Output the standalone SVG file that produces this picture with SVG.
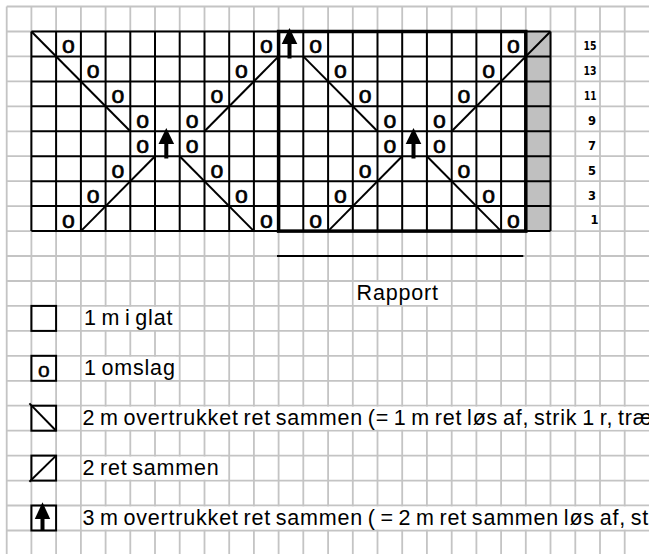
<svg xmlns="http://www.w3.org/2000/svg" width="649" height="554" viewBox="0 0 649 554">
<style>
.bg{fill:#fff}
.grid{stroke:#c4c4c4;stroke-width:1.8;fill:none}
.blk{stroke:#000;stroke-width:2;fill:none}
.thick{stroke:#000;stroke-width:3.5;fill:none}
.o{font-family:"Liberation Sans",Arial,sans-serif;font-size:23px;text-anchor:middle;fill:#000;stroke:#000;stroke-width:0.7}
.num{font-family:"DejaVu Sans",sans-serif;font-weight:bold;font-size:13px;fill:#000}
.lbl{font-family:"Liberation Sans",Arial,sans-serif;font-size:21.5px;letter-spacing:0.8px;word-spacing:-2px;fill:#000}
.wb{fill:#fff}
</style>
<defs>
<g id="arrow">
<polygon points="0,0 -7.8,16 7.8,16" fill="#000"/>
<rect x="-2" y="15" width="4" height="15.5" fill="#000"/>
</g>
</defs>
<rect class="bg" x="0" y="0" width="649" height="554"/>
<g id="paper-grid">
<path class="grid" d="M6.7 6.5V554M31.4 6.5V554M56.1 6.5V554M80.9 6.5V554M105.6 6.5V554M130.3 6.5V554M155 6.5V554M179.7 6.5V554M204.5 6.5V554M229.2 6.5V554M253.9 6.5V554M278.6 6.5V554M303.3 6.5V554M328.1 6.5V554M352.8 6.5V554M377.5 6.5V554M402.2 6.5V554M426.9 6.5V554M451.7 6.5V554M476.4 6.5V554M501.1 6.5V554M525.8 6.5V554M550.5 6.5V554M575.3 6.5V554M600 6.5V554M624.7 6.5V554M6.7 6.5H649M6.7 31.5H649M6.7 56.4H649M6.7 81.4H649M6.7 106.3H649M6.7 131.3H649M6.7 156.2H649M6.7 181.2H649M6.7 206.1H649M6.7 231.1H649M6.7 256H649M6.7 281H649M6.7 305.9H649M6.7 330.9H649M6.7 355.8H649M6.7 380.8H649M6.7 405.7H649M6.7 430.7H649M6.7 455.6H649M6.7 480.6H649M6.7 505.5H649M6.7 530.5H649"/>
</g>
<g id="chart">
<rect x="31.4" y="31.5" width="494.4" height="199.6" fill="#fff"/>
<rect x="525.8" y="31.5" width="24.7" height="199.6" fill="#c0c0c0"/>
<path class="blk" d="M31.4 31.5V231.1M56.1 31.5V231.1M80.9 31.5V231.1M105.6 31.5V231.1M130.3 31.5V231.1M155 31.5V231.1M179.7 31.5V231.1M204.5 31.5V231.1M229.2 31.5V231.1M253.9 31.5V231.1M278.6 31.5V231.1M303.3 31.5V231.1M328.1 31.5V231.1M352.8 31.5V231.1M377.5 31.5V231.1M402.2 31.5V231.1M426.9 31.5V231.1M451.7 31.5V231.1M476.4 31.5V231.1M501.1 31.5V231.1M525.8 31.5V231.1M550.5 31.5V231.1M31.4 31.5H550.5M31.4 56.4H550.5M31.4 81.4H550.5M31.4 106.3H550.5M31.4 131.3H550.5M31.4 156.2H550.5M31.4 181.2H550.5M31.4 206.1H550.5M31.4 231.1H550.5"/>
<rect id="repeat-box" class="thick" x="278.6" y="31.5" width="247.2" height="199.6"/>
<g id="decreases" class="blk">
<line x1="31.4" y1="31.5" x2="130.3" y2="131.3"/>
<line x1="204.5" y1="131.3" x2="278.6" y2="56.4"/>
<line x1="303.3" y1="56.4" x2="377.5" y2="131.3"/>
<line x1="550.5" y1="31.5" x2="451.7" y2="131.3"/>
<line x1="80.9" y1="231.1" x2="155" y2="156.2"/>
<line x1="179.7" y1="156.2" x2="253.9" y2="231.1"/>
<line x1="328.1" y1="231.1" x2="402.2" y2="156.2"/>
<line x1="426.9" y1="156.2" x2="501.1" y2="231.1"/>
</g>
<g id="yarnovers">
<text class="o" x="68.5" y="52.9">o</text><text class="o" x="266.3" y="52.9">o</text><text class="o" x="315.7" y="52.9">o</text><text class="o" x="513.5" y="52.9">o</text>
<text class="o" x="93.2" y="77.9">o</text><text class="o" x="241.5" y="77.9">o</text><text class="o" x="340.4" y="77.9">o</text><text class="o" x="488.7" y="77.9">o</text>
<text class="o" x="117.9" y="102.8">o</text><text class="o" x="216.8" y="102.8">o</text><text class="o" x="365.1" y="102.8">o</text><text class="o" x="464" y="102.8">o</text>
<text class="o" x="142.7" y="127.8">o</text><text class="o" x="192.1" y="127.8">o</text><text class="o" x="389.9" y="127.8">o</text><text class="o" x="439.3" y="127.8">o</text>
<text class="o" x="142.7" y="152.7">o</text><text class="o" x="192.1" y="152.7">o</text><text class="o" x="389.9" y="152.7">o</text><text class="o" x="439.3" y="152.7">o</text>
<text class="o" x="117.9" y="177.7">o</text><text class="o" x="216.8" y="177.7">o</text><text class="o" x="365.1" y="177.7">o</text><text class="o" x="464" y="177.7">o</text>
<text class="o" x="93.2" y="202.6">o</text><text class="o" x="241.5" y="202.6">o</text><text class="o" x="340.4" y="202.6">o</text><text class="o" x="488.7" y="202.6">o</text>
<text class="o" x="68.5" y="227.6">o</text><text class="o" x="266.3" y="227.6">o</text><text class="o" x="315.7" y="227.6">o</text><text class="o" x="513.5" y="227.6">o</text>
</g>
<g id="double-decreases">
<use href="#arrow" x="289.5" y="28"/>
<use href="#arrow" x="166.3" y="128"/>
<use href="#arrow" x="413.5" y="128"/>
</g>
</g>
<g id="row-numbers">
<text class="num" x="583.5" y="50" textLength="13" lengthAdjust="spacingAndGlyphs">15</text>
<text class="num" x="583.5" y="75" textLength="13" lengthAdjust="spacingAndGlyphs">13</text>
<text class="num" x="584" y="100" textLength="12.5" lengthAdjust="spacingAndGlyphs">11</text>
<text class="num" x="588" y="124.5" textLength="8" lengthAdjust="spacingAndGlyphs">9</text>
<text class="num" x="588" y="149.5" textLength="8" lengthAdjust="spacingAndGlyphs">7</text>
<text class="num" x="588" y="174.5" textLength="8" lengthAdjust="spacingAndGlyphs">5</text>
<text class="num" x="588" y="199.5" textLength="8" lengthAdjust="spacingAndGlyphs">3</text>
<text class="num" x="590.5" y="223.5" textLength="8" lengthAdjust="spacingAndGlyphs">1</text>
</g>
<g id="rapport">
<line class="blk" x1="277" y1="256" x2="523.3" y2="256"/>
<rect class="wb" x="353.8" y="282" width="96.8" height="23"/>
<text class="lbl" x="356.6" y="300">Rapport</text>
</g>
<g id="legend-knit">
<rect class="blk" x="31.4" y="305.9" width="24.7" height="25"/>
<rect class="wb" x="81.8" y="306.9" width="92" height="23"/>
<text class="lbl" x="84" y="324.5">1 m i glat</text>
</g>
<g id="legend-yo">
<rect class="blk" x="31.4" y="355.8" width="24.7" height="25" fill="#fff"/>
<text class="o" x="43.8" y="376.7" style="font-size:21px;stroke-width:0.5">o</text>
<rect class="wb" x="81.8" y="356.8" width="94" height="23"/>
<text class="lbl" x="84" y="375">1 omslag</text>
</g>
<g id="legend-ssk">
<rect class="blk" x="31.4" y="405.7" width="24.7" height="25"/>
<line class="blk" x1="29.4" y1="403.4" x2="56.1" y2="430.7"/>
<rect class="wb" x="81.8" y="406.7" width="568" height="23"/>
<text class="lbl" x="82.5" y="424.5">2 m overtrukket ret sammen (= 1 m ret løs af, strik 1 r, træ</text>
</g>
<g id="legend-k2tog">
<rect class="blk" x="31.4" y="455.6" width="24.7" height="25"/>
<line class="blk" x1="29.4" y1="481.8" x2="56.1" y2="455.6"/>
<rect class="wb" x="81.8" y="456.6" width="139" height="23"/>
<text class="lbl" x="82.5" y="475">2 ret sammen</text>
</g>
<g id="legend-sk2p">
<rect class="blk" x="31.4" y="505.5" width="24.7" height="25"/>
<polygon points="42.5,502.3 34.8,519 50.2,519" fill="#000"/>
<rect x="40.5" y="518" width="4" height="12" fill="#000"/>
<rect class="wb" x="81.8" y="506.5" width="568" height="23"/>
<text class="lbl" x="82.5" y="525">3 m overtrukket ret sammen ( = 2 m ret sammen løs af, st</text>
</g>
</svg>
